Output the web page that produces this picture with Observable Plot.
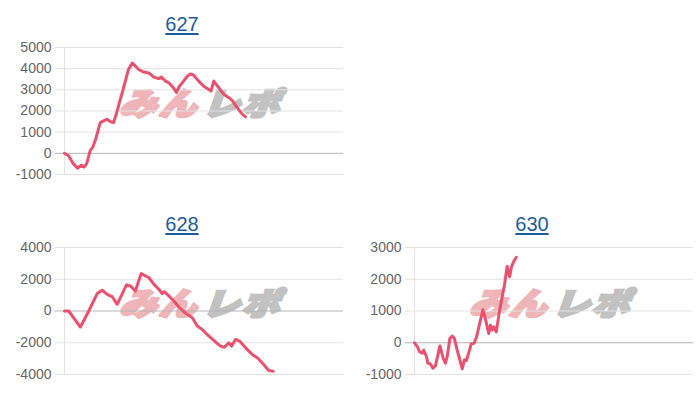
<!DOCTYPE html>
<html>
<head>
<meta charset="utf-8">
<script src="https://cdn.jsdelivr.net/npm/d3@7"></script>
<script src="https://cdn.jsdelivr.net/npm/@observablehq/plot@0.6"></script>
<style>
  html, body { margin: 0; padding: 0; background: #fff; }
  #wrap { position: relative; width: 700px; height: 400px; overflow: hidden; }
  .panel { position: absolute; width: 350px; height: 200px; }
  .panel .title { position: absolute; top: 14px; left: 0; width: 364px; text-align: center;
    font-family: "Liberation Sans", Arial, sans-serif; font-size: 20px; line-height: 20px;
    color: #1b5c9e; text-decoration: underline; text-underline-offset: 2px; z-index: 3; }
  .panel .wm { position: absolute; top: 86px; left: 124px; font-family: "Noto Sans CJK JP", sans-serif;
    font-weight: 900; font-size: 31px; line-height: 31px; letter-spacing: 2px; white-space: nowrap;
    transform-origin: 0 50%; transform: skewX(-20deg) scaleX(1.2); z-index: 1; }
  .panel .wm .a { color: #efb6b9; -webkit-text-stroke: 3px #efb6b9; }
  .panel .wm .b { color: #c2c2c2; -webkit-text-stroke: 3px #c2c2c2; margin-left: 3px; }
  .panel svg { position: absolute; left: 0; top: 0; z-index: 2; }
</style>
</head>
<body>
<div id="wrap"></div>
<script>
// Panel titles
const titles = ["627", "628", "630"];

// 627: position along the play axis (0-100) and balance
const x627 = [0, 1.4, 3.2, 4.7, 6.0, 7.0, 8.0, 9.2, 10.1, 11.2, 12.8, 14.0, 15.2, 16.4, 17.6, 18.7, 20.5, 21.8, 22.9, 24.3, 26.6, 28.4, 30.2, 32.0, 33.8, 34.7, 36.2, 37.4, 39.2, 40.1, 41.2, 42.2, 44.0, 45.2, 46.3, 48.1, 49.9, 51.7, 52.5, 53.5, 55.3, 57.1, 58.9, 60.1, 61.9, 63.7, 64.9];
const y627 = [0, -100, -500, -700, -560, -650, -470, 130, 280, 680, 1450, 1530, 1610, 1500, 1450, 1920, 2780, 3400, 3960, 4270, 3960, 3840, 3800, 3600, 3530, 3600, 3410, 3330, 3070, 2880, 3170, 3330, 3640, 3750, 3690, 3410, 3170, 3020, 2940, 3410, 3100, 2790, 2630, 2500, 2160, 1850, 1720];

// 628
const x628 = [0, 1.5, 5.7, 8.7, 11.7, 13.5, 15.3, 17.1, 18.9, 22.2, 23.7, 25.4, 27.5, 29.0, 30.2, 32.0, 33.8, 35.0, 35.8, 37.4, 39.2, 41.0, 42.5, 44.0, 45.8, 47.6, 49.4, 51.1, 53.5, 55.9, 57.3, 58.9, 59.9, 61.3, 62.8, 64.9, 67.3, 69.1, 71.4, 73.2, 74.8];
const y628 = [0, 0, -1010, 0, 1100, 1310, 1050, 900, 420, 1640, 1580, 1260, 2360, 2210, 2110, 1690, 1370, 1100, 1220, 950, 630, 250, 0, -210, -420, -950, -1160, -1480, -1850, -2210, -2280, -2000, -2210, -1790, -1900, -2320, -2740, -2950, -3370, -3750, -3800];

// 630
const x630 = [0, 1.0, 1.8, 2.8, 3.3, 4.3, 4.8, 5.7, 6.6, 7.5, 8.4, 9.1, 10.3, 11.1, 11.7, 12.7, 13.5, 14.3, 15.3, 16.2, 17.1, 17.9, 18.6, 19.8, 20.3, 21.3, 22.2, 23.4, 24.5, 25.4, 26.6, 27.2, 27.8, 28.4, 29.3, 30.5, 32.3, 33.2, 34.1, 34.8, 35.6, 36.5];
const y630 = [0, -125, -280, -330, -230, -440, -640, -670, -800, -730, -380, -100, -490, -640, -440, 140, 210, 140, -230, -520, -820, -540, -560, -210, -40, -20, 170, 620, 1040, 760, 290, 550, 400, 500, 340, 1020, 1850, 2400, 2080, 2400, 2560, 2690];

// y tick labels per panel
const ticks627 = [-1000, 0, 1000, 2000, 3000, 4000, 5000];
const ticks628 = [-4000, -2000, 0, 2000, 4000];
const ticks630 = [-1000, 0, 1000, 2000, 3000];

const panels = [
  {title: titles[0], xs: x627, ys: y627, ticks: ticks627, left: 0, top: 0},
  {title: titles[1], xs: x628, ys: y628, ticks: ticks628, left: 0, top: 200},
  {title: titles[2], xs: x630, ys: y630, ticks: ticks630, left: 350, top: 200}
];

const wrap = document.getElementById("wrap");
for (const p of panels) {
  const div = document.createElement("div");
  div.className = "panel";
  div.style.left = p.left + "px";
  div.style.top = p.top + "px";

  const t = document.createElement("a");
  t.className = "title";
  t.href = "#";
  t.textContent = p.title;
  div.appendChild(t);

  const wm = document.createElement("div");
  wm.className = "wm";
  wm.innerHTML = '<span class="a">みん</span><span class="b">レポ</span>';
  div.appendChild(wm);

  const data = p.xs.map((x, i) => ({x, y: p.ys[i]}));
  const domain = [p.ticks[0], p.ticks[p.ticks.length - 1]];
  const svg = Plot.plot({
    width: 350,
    height: 200,
    marginLeft: 64,
    marginRight: 7,
    marginTop: 47,
    marginBottom: 26,
    style: {background: "transparent", fontFamily: "'Liberation Sans', Arial, sans-serif", fontSize: "14px", color: "#666"},
    x: {domain: [0, 100], axis: null},
    y: {domain, ticks: p.ticks, tickSize: 0, tickPadding: 13, tickFormat: d => String(d), label: null},
    marks: [
      Plot.ruleY(p.ticks.filter(d => d !== 0), {stroke: "#e3e3e3", insetLeft: -9}),
      Plot.ruleX([0], {stroke: "#e3e3e3"}),
      Plot.ruleY([0], {stroke: "#b5b5b5", insetLeft: -9}),
      Plot.line(data, {x: "x", y: "y", stroke: "#e9516f", strokeWidth: 3, strokeLinejoin: "round", strokeLinecap: "round"})
    ]
  });
  div.appendChild(svg);
  wrap.appendChild(div);
}
</script>
</body>
</html>
